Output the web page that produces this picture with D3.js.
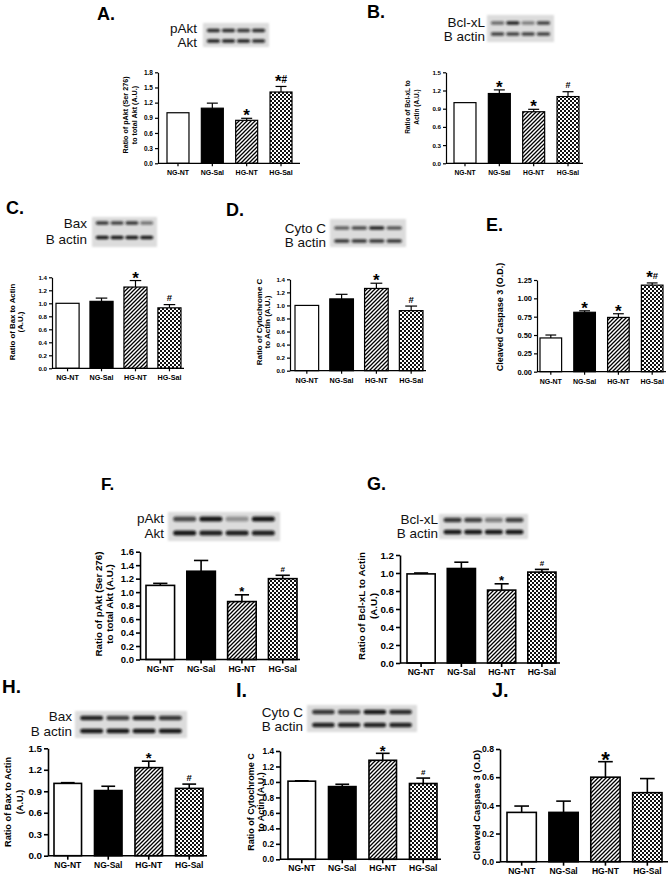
<!DOCTYPE html>
<html>
<head>
<meta charset="utf-8">
<script src="https://cdn.jsdelivr.net/npm/d3@7"></script>
<style>
  body { margin: 0; background: #fff; }
  svg { display: block; font-family: "Liberation Sans", Arial, sans-serif; }
</style>
</head>
<body>
<div id="chart"></div>
<script>
const groups = ["NG-NT", "NG-Sal", "HG-NT", "HG-Sal"]

// A. pAkt / Akt
const aMean = [1.0, 1.09, 0.85, 1.41]
const aSem = [0, 0.1, 0.04, 0.11]
const aSig = ["", "", "*", "*#"]
const aTicks = [0, 0.3, 0.6, 0.9, 1.2, 1.5, 1.8]
// B. Bcl-xL
const bMean = [1.0, 1.15, 0.85, 1.1]
const bSem = [0, 0.06, 0.04, 0.08]
const bSig = ["", "*", "*", "#"]
const bTicks = [0, 0.3, 0.6, 0.9, 1.2, 1.5]
// C. Bax
const cMean = [1.0, 1.03, 1.25, 0.93]
const cSem = [0, 0.05, 0.1, 0.05]
const cSig = ["", "", "*", "#"]
const cTicks = [0, 0.2, 0.4, 0.6, 0.8, 1.0, 1.2, 1.4]
// D. Cyto C
const dMean = [1.0, 1.1, 1.26, 0.92]
const dSem = [0, 0.07, 0.08, 0.07]
const dSig = ["", "", "*", "#"]
const dTicks = [0, 0.2, 0.4, 0.6, 0.8, 1.0, 1.2, 1.4]
// E. cleaved caspase 3
const eMean = [0.46, 0.81, 0.74, 1.18]
const eSem = [0.04, 0.02, 0.05, 0.03]
const eSig = ["", "*", "*", "*#"]
const eTicks = [0, 0.25, 0.5, 0.75, 1.0, 1.25]
// F. pAkt / Akt
const fMean = [1.1, 1.31, 0.86, 1.2]
const fSem = [0.03, 0.16, 0.1, 0.05]
const fSig = ["", "", "*", "#"]
const fTicks = [0, 0.2, 0.4, 0.6, 0.8, 1.0, 1.2, 1.4, 1.6]
// G. Bcl-xL
const gMean = [0.99, 1.05, 0.81, 1.01]
const gSem = [0.01, 0.07, 0.07, 0.03]
const gSig = ["", "", "*", "#"]
const gTicks = [0, 0.2, 0.4, 0.6, 0.8, 1.0, 1.2]
// H. Bax
const hMean = [1.01, 0.91, 1.23, 0.94]
const hSem = [0.01, 0.06, 0.09, 0.06]
const hSig = ["", "", "*", "#"]
const hTicks = [0, 0.3, 0.6, 0.9, 1.2, 1.5]
// I. Cyto C
const iMean = [1.01, 0.94, 1.28, 0.98]
const iSem = [0.005, 0.03, 0.09, 0.07]
const iSig = ["", "", "*", "#"]
const iTicks = [0, 0.2, 0.4, 0.6, 0.8, 1.0, 1.2, 1.4]
// J. cleaved caspase 3
const jMean = [0.35, 0.35, 0.6, 0.49]
const jSem = [0.045, 0.08, 0.11, 0.1]
const jSig = ["", "", "*", ""]
const jTicks = [0, 0.2, 0.4, 0.6, 0.8]

// western blot band intensities (0..1), per lane
const aBlotTop = [0.85, 0.85, 0.8, 0.85]
const aBlotBot = [0.9, 0.9, 0.9, 0.85]
const bBlotTop = [0.55, 0.9, 0.45, 0.75]
const bBlotBot = [0.75, 0.75, 0.75, 0.75]
const cBlotTop = [0.8, 0.75, 0.8, 0.5]
const cBlotBot = [0.95, 0.95, 0.95, 0.95]
const dBlotTop = [0.6, 0.7, 0.9, 0.65]
const dBlotBot = [0.8, 0.8, 0.8, 0.8]
const fBlotTop = [0.7, 0.95, 0.35, 0.95]
const fBlotBot = [0.95, 0.9, 0.9, 0.9]
const gBlotTop = [0.8, 0.75, 0.45, 0.75]
const gBlotBot = [0.95, 0.95, 0.95, 0.95]
const hBlotTop = [0.9, 0.75, 0.9, 0.8]
const hBlotBot = [0.95, 0.95, 0.95, 0.95]
const iBlotTop = [0.8, 0.75, 0.95, 0.85]
const iBlotBot = [0.9, 0.9, 0.9, 0.9]

const width = 672
const height = 881

const svg = d3
  .create("svg")
  .attr("viewBox", [0, 0, width, height])
  .attr("width", width)
  .attr("height", height)

svg.append("rect").attr("width", width).attr("height", height).attr("fill", "#fff")

const defs = svg.append("defs")
const hatch = defs
  .append("pattern")
  .attr("id", "hatch")
  .attr("patternUnits", "userSpaceOnUse")
  .attr("width", 4)
  .attr("height", 4)
hatch.append("rect").attr("width", 4).attr("height", 4).attr("fill", "#fff")
hatch
  .append("path")
  .attr("d", "M-1,1 l2,-2 M0,4 l4,-4 M3,5 l2,-2")
  .attr("stroke", "#000")
  .attr("stroke-width", 1.3)

const checker = defs
  .append("pattern")
  .attr("id", "checker")
  .attr("patternUnits", "userSpaceOnUse")
  .attr("width", 4)
  .attr("height", 4)
checker.append("rect").attr("width", 4).attr("height", 4).attr("fill", "#111")
checker.append("rect").attr("width", 2).attr("height", 2).attr("fill", "#fff")
checker.append("rect").attr("x", 2).attr("y", 2).attr("width", 2).attr("height", 2).attr("fill", "#fff")

defs.append("filter").attr("id", "blur").attr("x", "-20%").attr("y", "-80%").attr("width", "140%").attr("height", "260%")
  .append("feGaussianBlur").attr("stdDeviation", 0.9)
defs.append("filter").attr("id", "soft").attr("x", "-10%").attr("y", "-20%").attr("width", "120%").attr("height", "140%")
  .append("feGaussianBlur").attr("stdDeviation", 0.8)

const fills = ["#fff", "#000", "url(#hatch)", "url(#checker)"]

const panels = [
  { letter: "A.", lx: 97, ly: 20, lfs: 18, mean: aMean, sem: aSem, sig: aSig, ticks: aTicks, fmt: ".1f",
    axisX: 158, y0: 163.3, yTop: 72.3, barL: 167, barR: 292, pad: 0.36, xEnd: 300,
    title: ["Ratio of pAkt (Ser 276)", "to total Akt (A.U.)"], titleX: [125, 134], titleY: 115, titleFs: 7.2,
    tickFs: 6.5, labelFs: 7, starFs: 17, hashFs: 10, sw: 1.2, tick: 3 },
  { letter: "B.", lx: 367, ly: 18, lfs: 18, mean: bMean, sem: bSem, sig: bSig, ticks: bTicks, fmt: ".1f",
    axisX: 446, y0: 163.3, yTop: 72.3, barL: 454, barR: 579, pad: 0.36, xEnd: 583,
    title: ["Ratio of Bcl-xL to", "Actin (A.U.)"], titleX: [408, 417], titleY: 107, titleFs: 6.5,
    tickFs: 6.2, labelFs: 6.7, starFs: 17, hashFs: 9, sw: 1.2, tick: 3 },
  { letter: "C.", lx: 6, ly: 214, lfs: 18, mean: cMean, sem: cSem, sig: cSig, ticks: cTicks, fmt: ".1f",
    axisX: 52, y0: 368.3, yTop: 277.3, barL: 56, barR: 181, pad: 0.32, xEnd: 184,
    title: ["Ratio of Bax to Actin", "(A.U.)"], titleX: [12, 20], titleY: 322, titleFs: 7.8,
    tickFs: 6.2, labelFs: 7.2, starFs: 17, hashFs: 9.5, sw: 1.2, tick: 3 },
  { letter: "D.", lx: 226, ly: 216, lfs: 18, mean: dMean, sem: dSem, sig: dSig, ticks: dTicks, fmt: ".1f",
    axisX: 290, y0: 370.7, yTop: 279.3, barL: 295, barR: 423, pad: 0.32, xEnd: 426,
    title: ["Ratio of Cytochrome C", "to Actin (A.U.)"], titleX: [259, 267], titleY: 322, titleFs: 8,
    tickFs: 6.2, labelFs: 7.2, starFs: 17, hashFs: 9.5, sw: 1.2, tick: 3 },
  { letter: "E.", lx: 486, ly: 231, lfs: 18, mean: eMean, sem: eSem, sig: eSig, ticks: eTicks, fmt: ".2f",
    axisX: 537, y0: 371.7, yTop: 280, barL: 540, barR: 663, pad: 0.36, xEnd: 666,
    title: ["Cleaved Caspase 3 (O.D.)"], titleX: [500], titleY: 317, titleFs: 9,
    tickFs: 7.5, labelFs: 7, starFs: 17, hashFs: 9.5, sw: 1.2, tick: 3 },
  { letter: "F.", lx: 101, ly: 490, lfs: 17, mean: fMean, sem: fSem, sig: fSig, ticks: fTicks, fmt: ".1f",
    axisX: 140, y0: 659.5, yTop: 551.7, barL: 146, barR: 297, pad: 0.3, xEnd: 300,
    title: ["Ratio of pAkt (Ser 276)", "to total Akt (A.U.)"], titleX: [99, 110], titleY: 604, titleFs: 9.8,
    tickFs: 9.5, labelFs: 8.5, starFs: 13, hashFs: 8, sw: 1.6, tick: 4 },
  { letter: "G.", lx: 367, ly: 490, lfs: 18, mean: gMean, sem: gSem, sig: gSig, ticks: gTicks, fmt: ".1f",
    axisX: 400, y0: 663, yTop: 555, barL: 407, barR: 556, pad: 0.3, xEnd: 560,
    title: ["Ratio of Bcl-xL to Actin", "(A.U.)"], titleX: [362, 374], titleY: 606, titleFs: 9.8,
    tickFs: 9.8, labelFs: 8.5, starFs: 13, hashFs: 8, sw: 1.6, tick: 4 },
  { letter: "H.", lx: 2, ly: 693, lfs: 19, mean: hMean, sem: hSem, sig: hSig, ticks: hTicks, fmt: ".1f",
    axisX: 48, y0: 855.7, yTop: 748.3, barL: 54, barR: 203, pad: 0.32, xEnd: 207,
    title: ["Ratio of Bax to Actin", "(A.U.)"], titleX: [8, 20], titleY: 802, titleFs: 9.2,
    tickFs: 9.8, labelFs: 8.5, starFs: 15, hashFs: 9.5, sw: 1.6, tick: 4 },
  { letter: "I.", lx: 236, ly: 697, lfs: 20, mean: iMean, sem: iSem, sig: iSig, ticks: iTicks, fmt: ".1f",
    axisX: 280, y0: 859.3, yTop: 751, barL: 288, barR: 437, pad: 0.32, xEnd: 441,
    title: ["Ratio of Cytochrome C", "to Actin (A.U.)"], titleX: [251, 261], titleY: 802, titleFs: 9,
    tickFs: 8.2, labelFs: 8.5, starFs: 15, hashFs: 8, sw: 1.6, tick: 4 },
  { letter: "J.", lx: 492, ly: 697, lfs: 20, mean: jMean, sem: jSem, sig: jSig, ticks: jTicks, fmt: ".1f",
    axisX: 500, y0: 861.7, yTop: 749, barL: 507, barR: 662, pad: 0.3, xEnd: 668,
    title: ["Cleaved Caspase 3 (O.D)"], titleX: [477], titleY: 805, titleFs: 9.4,
    tickFs: 8.6, labelFs: 8.5, starFs: 22, hashFs: 9, sw: 1.6, tick: 4 }
]

const blots = [
  { x: 203, y: 23, w: 66, h: 24, bandH: 3.5, labelX: 197, fs: 13.5,
    rows: [{ label: "pAkt", yc: 30.5, ly: 33, vals: aBlotTop }, { label: "Akt", yc: 41, ly: 47, vals: aBlotBot }] },
  { x: 487, y: 15, w: 67, h: 27, bandH: 3.5, labelX: 485, fs: 13.5,
    rows: [{ label: "Bcl-xL", yc: 23, ly: 27, vals: bBlotTop }, { label: "B actin", yc: 34, ly: 41, vals: bBlotBot }] },
  { x: 92, y: 217, w: 65, h: 30, bandH: 3.5, labelX: 87, fs: 13.5,
    rows: [{ label: "Bax", yc: 223, ly: 228, vals: cBlotTop }, { label: "B actin", yc: 237.5, ly: 244, vals: cBlotBot }] },
  { x: 330, y: 219, w: 76, h: 28, bandH: 3.5, labelX: 326, fs: 13.5,
    rows: [{ label: "Cyto C", yc: 228, ly: 232.5, vals: dBlotTop }, { label: "B actin", yc: 241, ly: 246.5, vals: dBlotBot }] },
  { x: 168, y: 512, w: 112, h: 29, bandH: 5, labelX: 164, fs: 13.5,
    rows: [{ label: "pAkt", yc: 519, ly: 523, vals: fBlotTop }, { label: "Akt", yc: 533, ly: 537.5, vals: fBlotBot }] },
  { x: 439, y: 514, w: 89, h: 25, bandH: 4.5, labelX: 438, fs: 13.5,
    rows: [{ label: "Bcl-xL", yc: 520, ly: 523.5, vals: gBlotTop }, { label: "B actin", yc: 532, ly: 537.5, vals: gBlotBot }] },
  { x: 75, y: 711, w: 112, h: 27, bandH: 4.5, labelX: 72, fs: 13.5,
    rows: [{ label: "Bax", yc: 718, ly: 721, vals: hBlotTop }, { label: "B actin", yc: 731, ly: 735.5, vals: hBlotBot }] },
  { x: 307, y: 705, w: 110, h: 27, bandH: 4.5, labelX: 303, fs: 13.5,
    rows: [{ label: "Cyto C", yc: 712, ly: 716.5, vals: iBlotTop }, { label: "B actin", yc: 725, ly: 730.5, vals: iBlotBot }] }
]

function drawBlot(b) {
  const g = svg.append("g")
  g.append("rect")
    .attr("x", b.x).attr("y", b.y)
    .attr("width", b.w).attr("height", b.h)
    .attr("fill", "#dcdcdc")
    .attr("filter", "url(#soft)")
  const lane = d3.scaleBand().domain(groups).range([b.x + 2, b.x + b.w - 2]).padding(0.12)
  b.rows.forEach(r => {
    g.append("g")
      .selectAll("rect")
      .data(groups.map((k, i) => ({ k, v: r.vals[i] })))
      .join("rect")
      .attr("x", d => lane(d.k))
      .attr("y", r.yc - b.bandH / 2)
      .attr("width", lane.bandwidth())
      .attr("height", b.bandH)
      .attr("rx", b.bandH / 2)
      .attr("fill", "#111")
      .attr("opacity", d => d.v)
      .attr("filter", "url(#blur)")
    g.append("text")
      .attr("x", b.labelX)
      .attr("y", r.ly)
      .attr("text-anchor", "end")
      .attr("font-size", b.fs)
      .attr("fill", "#111")
      .text(r.label)
  })
}

function drawPanel(p) {
  const g = svg.append("g")
  const y = d3.scaleLinear().domain([0, p.ticks[p.ticks.length - 1]]).range([p.y0, p.yTop])
  const x = d3.scaleBand().domain(groups).range([p.barL, p.barR]).paddingInner(p.pad).paddingOuter(0)
  const rows = groups.map((k, i) => ({ k, m: p.mean[i], s: p.sem[i], sig: p.sig[i], fill: fills[i] }))
  const cx = d => x(d.k) + x.bandwidth() / 2
  const cap = x.bandwidth() * 0.5

  // panel letter
  svg.append("text")
    .attr("x", p.lx).attr("y", p.ly)
    .attr("font-size", p.lfs)
    .attr("font-weight", "bold")
    .text(p.letter)

  // bars
  g.append("g")
    .selectAll("rect")
    .data(rows)
    .join("rect")
    .attr("x", d => x(d.k))
    .attr("y", d => y(d.m))
    .attr("width", x.bandwidth())
    .attr("height", d => y(0) - y(d.m))
    .attr("fill", d => d.fill)
    .attr("stroke", "#000")
    .attr("stroke-width", p.sw)

  // error bars (upper only)
  const eb = g.append("g")
    .attr("stroke", "#000")
    .attr("stroke-width", p.sw)
    .selectAll("g")
    .data(rows.filter(d => d.s > 0))
    .join("g")
  eb.append("line")
    .attr("x1", cx).attr("x2", cx)
    .attr("y1", d => y(d.m)).attr("y2", d => y(d.m + d.s))
  eb.append("line")
    .attr("x1", d => cx(d) - cap / 2).attr("x2", d => cx(d) + cap / 2)
    .attr("y1", d => y(d.m + d.s)).attr("y2", d => y(d.m + d.s))

  // significance marks
  const sig = g.append("g")
    .selectAll("text")
    .data(rows.filter(d => d.sig))
    .join("text")
    .attr("text-anchor", "middle")
    .attr("font-weight", "bold")
    .attr("x", cx)
    .attr("y", d => {
      const top = y(d.m + d.s)
      return d.sig.includes("#") ? top - 3.5 : top - 3.5 + p.starFs * 0.38
    })
  sig.each(function (d) {
    const t = d3.select(this)
    const chars = d.sig.split("")
    chars.forEach((c, i) => {
      const ts = t.append("tspan")
        .attr("font-size", c === "*" ? p.starFs : p.hashFs)
        .text(c)
      if (c === "*" && chars.length > 1) ts.attr("dy", p.starFs * 0.22)
      if (c === "#" && i > 0) ts.attr("dy", -p.starFs * 0.22)
    })
  })

  // y axis
  g.append("g")
    .attr("transform", `translate(${p.axisX},0)`)
    .call(d3.axisLeft(y).tickValues(p.ticks).tickFormat(d3.format(p.fmt)).tickSize(p.tick).tickSizeOuter(0).tickPadding(2))
    .call(a => a.attr("font-family", null).attr("font-size", p.tickFs).attr("font-weight", "bold"))
    .call(a => a.selectAll("path, line").attr("stroke-width", p.sw))

  // x axis
  const xa = g.append("g").attr("stroke", "#000").attr("stroke-width", p.sw)
  xa.append("line")
    .attr("x1", p.axisX).attr("x2", p.xEnd)
    .attr("y1", p.y0).attr("y2", p.y0)
  xa.selectAll("line.tk")
    .data(rows)
    .join("line")
    .attr("class", "tk")
    .attr("x1", cx).attr("x2", cx)
    .attr("y1", p.y0).attr("y2", p.y0 + p.tick)
  g.append("g")
    .selectAll("text")
    .data(rows)
    .join("text")
    .attr("x", cx)
    .attr("y", p.y0 + 12)
    .attr("text-anchor", "middle")
    .attr("font-size", p.labelFs)
    .attr("font-weight", "bold")
    .text(d => d.k)

  // y title
  p.title.forEach((line, i) => {
    g.append("text")
      .attr("transform", `translate(${p.titleX[i]},${p.titleY}) rotate(-90)`)
      .attr("dy", "0.35em")
      .attr("text-anchor", "middle")
      .attr("font-size", p.titleFs)
      .attr("font-weight", "bold")
      .text(line)
  })
}

blots.forEach(drawBlot)
panels.forEach(drawPanel)

document.querySelector("#chart").append(svg.node())
</script>
</body>
</html>
